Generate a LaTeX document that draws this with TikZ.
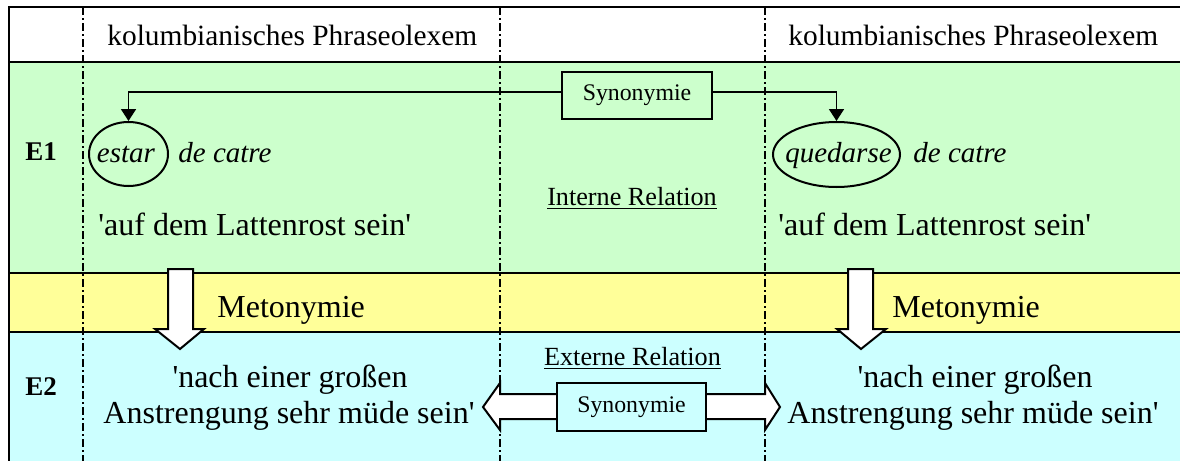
\documentclass[tikz,border=0pt]{standalone}
\usepackage{fontspec}
\setmainfont{Liberation Serif}
\usepackage{tikz}
\usetikzlibrary{arrows.meta, positioning, shapes.geometric, calc}
\definecolor{rowgreen}{RGB}{204,255,204}
\definecolor{rowyellow}{RGB}{255,255,153}
\definecolor{rowcyan}{RGB}{204,255,255}
\definecolor{mydark}{RGB}{0,0,0}
\newcommand{\sq}{\textquotesingle}
\tikzset{
  headtext/.style={inner sep=0pt, font=\fontsize{14.7}{17}\selectfont},
  bodytext/.style={inner sep=0pt, font=\fontsize{16}{19}\selectfont},
  lextext/.style={inner sep=0pt, font=\fontsize{14.5}{17}\selectfont\itshape},
  reltext/.style={inner sep=0pt, font=\fontsize{13.1}{15}\selectfont},
  rowlabel/.style={inner sep=0pt, font=\fontsize{13.5}{16}\selectfont\bfseries},
  synbox/.style={rectangle, draw=mydark, line width=1.3pt, inner sep=0pt,
    minimum width=75pt, minimum height=23.5pt, font=\fontsize{11.9}{14}\selectfont},
  lexoval/.style={ellipse, draw=mydark, line width=1pt, inner sep=0pt},
  colline/.style={line width=0.75pt, dash pattern=on 4pt off 1.5pt on 1pt off 1.5pt},
  rowline/.style={line width=1pt, color=mydark},
  arrow/.style={-{Triangle[length=6pt, width=7.5pt]}, line width=0.9pt, color=mydark},
  blockarrow/.style={fill=white, draw=mydark, line width=1pt, line join=miter}
}
\begin{document}
\begin{tikzpicture}[x=0.5pt, y=-0.5pt]
  \useasboundingbox (0,0) rectangle (1180,461);
  % Row backgrounds
  \fill[white] (0,0) rectangle (1180,461);
  \fill[rowgreen] (9,62) rectangle (1180,273);
  \fill[rowyellow] (9,273) rectangle (1180,332);
  \fill[rowcyan] (9,332) rectangle (1180,461);

  % Row borders
  \draw[rowline] (1180,7) -- (9,7) -- (9,461);
  \draw[rowline] (9,62) -- (1180,62);
  \draw[rowline] (9,273) -- (1180,273);
  \draw[rowline] (9,332) -- (1180,332);

  % Column separators
  \foreach \cx in {83,500,765}
    \draw[colline] (\cx,7) -- (\cx,461);

  % Header row
  \node[headtext, anchor=base west] (hdr_left) at (107,45) {kolumbianisches Phraseolexem};
  \node[headtext, anchor=base west] (hdr_right) at (788,45) {kolumbianisches Phraseolexem};

  % Row labels
  \node[rowlabel, anchor=base west] (lbl_e1) at (25,160) {E1};
  \node[rowlabel, anchor=base west] (lbl_e2) at (25,395) {E2};

  % E1: the two phraseolexems
  \node[lexoval, minimum width=39.5pt, minimum height=32pt] (estar) at (128.5,154) {};
  \node[lextext, anchor=base] (estar_txt) at (126,162) {estar};
  \node[lextext, anchor=base west] (catre_left) at (178,162) {de catre};
  \node[lexoval, minimum width=63.5pt, minimum height=32.5pt] (quedarse) at (836.5,154.5) {};
  \node[lextext, anchor=base] (quedarse_txt) at (838.5,162) {quedarse};
  \node[lextext, anchor=base west] (catre_right) at (913,162) {de catre};

  \node[bodytext, anchor=base west] (gloss_left) at (98,235) {\sq auf dem Lattenrost sein\sq};
  \node[bodytext, anchor=base west] (gloss_right) at (778,235) {\sq auf dem Lattenrost sein\sq};

  % Internal relation
  \node[synbox, fill=rowgreen] (syn_top) at (637,95.5) {Synonymie};
  \draw[arrow] ([yshift=1.75pt]syn_top.west) -| (estar.north);
  \draw[arrow] ([yshift=1.75pt]syn_top.east) -| (quedarse.north);
  \node[reltext, anchor=base] (int_rel) at (632,205) {\underline{Interne Relation}};

  % Metonymy step
  \draw[blockarrow] (168,269) -- (193,269) -- (193,329) -- (204,329) -- (180,349)
    -- (155,329) -- (168,329) -- cycle;
  \draw[blockarrow] (848,269) -- (873,269) -- (873,329) -- (886,329) -- (861,349)
    -- (837,329) -- (848,329) -- cycle;
  \node[bodytext, anchor=base west] (met_left) at (217,317) {Metonymie};
  \node[bodytext, anchor=base west] (met_right) at (892,317) {Metonymie};

  % E2: figurative meaning
  \node[bodytext, anchor=base] (mean_left_a) at (290,387) {\sq nach einer großen};
  \node[bodytext, anchor=base] (mean_left_b) at (289,423) {Anstrengung sehr müde sein\sq};
  \node[bodytext, anchor=base] (mean_right_a) at (975,387) {\sq nach einer großen};
  \node[bodytext, anchor=base] (mean_right_b) at (973,423) {Anstrengung sehr müde sein\sq};

  % External relation
  \node[reltext, anchor=base] (ext_rel) at (632.5,365) {\underline{Externe Relation}};
  \draw[blockarrow] (560,394) -- (500,394) -- (500,383) -- (483,407) -- (500,430)
    -- (500,419) -- (560,419) -- cycle;
  \draw[blockarrow] (703,394) -- (765,394) -- (765,383) -- (780,407) -- (765,430)
    -- (765,419) -- (703,419) -- cycle;
  \node[synbox, fill=rowcyan, minimum width=74.5pt, minimum height=24pt] (syn_bot) at (631.5,407) {Synonymie};
\end{tikzpicture}
\end{document}
